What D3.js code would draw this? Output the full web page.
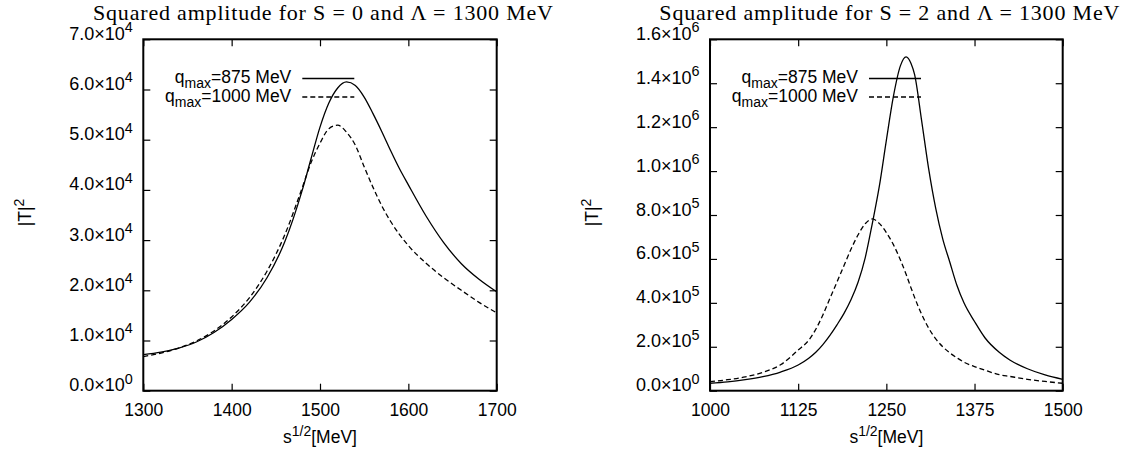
<!DOCTYPE html>
<html>
<head>
<meta charset="utf-8">
<script src="https://cdn.jsdelivr.net/npm/d3@7"></script>
<style>
  body { margin: 0; background: #fff; }
</style>
</head>
<body>
<div id="chart"></div>
<script>
// ---- data ----
// S = 0 panel
const s0Energy = [1300, 1320, 1340, 1360, 1380, 1400, 1420, 1440, 1460, 1480, 1490, 1500, 1510,
  1520, 1530, 1540, 1550, 1560, 1570, 1580, 1590, 1600, 1620, 1640, 1660, 1680, 1700];
const s0Q875 = [7200, 7700, 8500, 9700, 11600, 14200, 17600, 22500, 29600, 40000, 46300, 52500, 57300,
  60300, 61500, 60800, 58500, 55200, 51600, 47800, 44200, 41000, 34800, 29500, 25300, 22200, 19700];
const s0Q1000 = [6800, 7500, 8500, 9900, 11900, 14700, 18500, 23800, 31000, 40500, 45500, 49300, 52200,
  52900, 51500, 48900, 44600, 40500, 36800, 33700, 31100, 28900, 25400, 22500, 20000, 17600, 15500];
const s0XTicks = [1300, 1400, 1500, 1600, 1700];
const s0YTicks = [0, 1e4, 2e4, 3e4, 4e4, 5e4, 6e4, 7e4];

// S = 2 panel
const s2Energy = [1000, 1025, 1050, 1075, 1100, 1125, 1140, 1150, 1160, 1170, 1180, 1190, 1200,
  1210, 1220, 1230, 1240, 1250, 1260, 1270, 1278, 1285, 1290, 1300, 1310, 1320, 1330, 1340,
  1350, 1360, 1375, 1390, 1410, 1425, 1450, 1475, 1500];
const s2Q875 = [34000, 40000, 50000, 64000, 85000, 117000, 148000, 175000, 210000, 252000, 300000, 352000, 415000,
  495000, 605000, 760000, 930000, 1140000, 1340000, 1480000, 1520000, 1490000, 1440000, 1230000, 1010000, 830000, 690000, 585000,
  480000, 400000, 315000, 240000, 175000, 140000, 100000, 72000, 52000];
const s2Q1000 = [41000, 50000, 63000, 84000, 118000, 185000, 230000, 280000, 345000, 420000, 495000, 570000, 645000,
  710000, 760000, 782000, 762000, 720000, 665000, 595000, 530000, 468000, 425000, 348000, 285000, 236000, 200000, 172000,
  150000, 130000, 110000, 93000, 73000, 65000, 52000, 42000, 34000];
const s2XTicks = [1000, 1125, 1250, 1375, 1500];
const s2YTicks = [0, 2e5, 4e5, 6e5, 8e5, 1e6, 1.2e6, 1.4e6, 1.6e6];

const legendLabels = ["875 MeV", "1000 MeV"];

// ---- drawing ----
const sans = "'Liberation Sans', Arial, Helvetica, sans-serif";
const serif = "'Liberation Serif', 'Times New Roman', Times, serif";
const fs = 17.5;

const svg = d3.select("#chart").append("svg")
  .attr("width", 1124).attr("height", 455);

// text with super/subscripts: parts = [[string, 0|1|-1]]
function rich(t, parts, size) {
  let off = 0;
  parts.forEach(([s, k]) => {
    const target = k > 0 ? -0.42 * size : k < 0 ? 0.3 * size : 0;
    t.append("tspan")
      .attr("dy", target - off)
      .attr("font-size", k ? size * 0.8 : size)
      .text(s);
    off = target;
  });
}

function sciParts(v) {
  if (v === 0) return [["0.0×10", 0], ["0", 1]];
  const e = Math.floor(Math.log10(v) + 1e-9);
  return [[(v / Math.pow(10, e)).toFixed(1) + "×10", 0], [String(e), 1]];
}

function drawPanel(opt) {
  const top = 39.3, bottom = 390.7;
  const x = d3.scaleLinear().domain(opt.xDomain).range([opt.left, opt.right]);
  const y = d3.scaleLinear().domain(opt.yDomain).range([bottom, top]);
  const g = svg.append("g");

  const clipId = "clip" + opt.id;
  g.append("clipPath").attr("id", clipId)
    .append("rect").attr("x", opt.left).attr("y", top)
    .attr("width", opt.right - opt.left).attr("height", bottom - top);

  // title
  g.append("text")
    .attr("x", (opt.left + opt.right) / 2 + 3).attr("y", 19.5)
    .attr("text-anchor", "middle")
    .attr("font-family", serif).attr("font-size", 22)
    .attr("textLength", 460).attr("lengthAdjust", "spacing")
    .text(opt.title);

  // axes (gnuplot style: ticks inside, mirrored)
  const styleAxis = sel => {
    sel.select(".domain").remove();
    sel.selectAll(".tick line").attr("stroke", "#000").attr("stroke-width", 1.2);
    sel.attr("font-family", sans).attr("font-size", fs);
  };

  g.append("g").attr("transform", `translate(0,${bottom})`)
    .call(d3.axisBottom(x).tickValues(opt.xTicks).tickSize(-7).tickPadding(13).tickFormat(d3.format("d")))
    .call(styleAxis)
    .selectAll("text").attr("fill", "#000");

  g.append("g").attr("transform", `translate(0,${top})`)
    .call(d3.axisTop(x).tickValues(opt.xTicks).tickSize(-7).tickFormat(""))
    .call(styleAxis);

  g.append("g").attr("transform", `translate(${opt.left},0)`)
    .call(d3.axisLeft(y).tickValues(opt.yTicks).tickSize(-7).tickPadding(10.5).tickFormat(""))
    .call(styleAxis)
    .selectAll(".tick text")
    .attr("fill", "#000")
    .each(function(d) {
      const t = d3.select(this).text(null);
      rich(t, sciParts(d), 18);
    });

  g.append("g").attr("transform", `translate(${opt.right},0)`)
    .call(d3.axisRight(y).tickValues(opt.yTicks).tickSize(-7).tickFormat(""))
    .call(styleAxis);

  // border
  g.append("rect")
    .attr("x", opt.left).attr("y", top)
    .attr("width", opt.right - opt.left).attr("height", bottom - top)
    .attr("fill", "none").attr("stroke", "#000").attr("stroke-width", 2);

  // axis labels
  const xl = g.append("text")
    .attr("x", (opt.left + opt.right) / 2).attr("y", 443)
    .attr("text-anchor", "middle").attr("font-family", sans);
  rich(xl, [["s", 0], ["1/2", 1], ["[MeV]", 0]], fs);

  const yl = g.append("text")
    .attr("transform", `translate(${opt.left - 112},212.5) rotate(-90)`)
    .attr("text-anchor", "middle").attr("font-family", sans);
  rich(yl, [["|T|", 0], ["2", 1]], fs);

  // curves
  const line = d3.line()
    .x(d => x(d[0])).y(d => y(d[1]))
    .curve(d3.curveMonotoneX);

  const series = [
    { values: opt.q875, dash: null },
    { values: opt.q1000, dash: "5,3" }
  ];

  series.forEach((s, i) => {
    g.append("path")
      .datum(opt.energy.map((e, j) => [e, s.values[j]]))
      .attr("clip-path", `url(#${clipId})`)
      .attr("fill", "none").attr("stroke", "#000").attr("stroke-width", 1.3)
      .attr("stroke-dasharray", s.dash)
      .attr("d", line);

    // key
    const ky = 78.5 + i * 18.5;
    const kt = g.append("text")
      .attr("x", opt.left + 148).attr("y", ky + 4.5)
      .attr("text-anchor", "end").attr("font-family", sans);
    rich(kt, [["q", 0], ["max", -1], ["=" + legendLabels[i], 0]], fs);
    g.append("line")
      .attr("x1", opt.left + 159).attr("x2", opt.left + 211)
      .attr("y1", ky).attr("y2", ky)
      .attr("stroke", "#000").attr("stroke-width", 1.3)
      .attr("stroke-dasharray", s.dash);
  });
}

drawPanel({
  id: 0, left: 143.3, right: 496.7,
  xDomain: [1300, 1700], yDomain: [0, 7e4],
  xTicks: s0XTicks, yTicks: s0YTicks,
  energy: s0Energy, q875: s0Q875, q1000: s0Q1000,
  title: "Squared amplitude for S = 0 and Λ = 1300 MeV"
});

drawPanel({
  id: 2, left: 710, right: 1062.7,
  xDomain: [1000, 1500], yDomain: [0, 1.6e6],
  xTicks: s2XTicks, yTicks: s2YTicks,
  energy: s2Energy, q875: s2Q875, q1000: s2Q1000,
  title: "Squared amplitude for S = 2 and Λ = 1300 MeV"
});
</script>
</body>
</html>
